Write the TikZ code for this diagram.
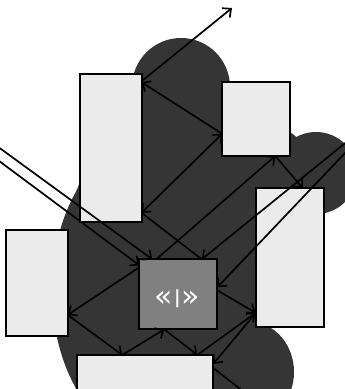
\documentclass[tikz,border=0pt]{standalone}
\usepackage{fontspec}
\newfontfamily\lblfont{DejaVu Sans}
\usetikzlibrary{arrows.meta}
\definecolor{boxgray}{HTML}{EBEBEB}
\definecolor{blobgray}{HTML}{353535}
\definecolor{midgray}{HTML}{808080}
\begin{document}
\begin{tikzpicture}[x=1pt,y=-1pt,
  box/.style={draw=black, line width=2pt, fill=boxgray, inner sep=0pt, outer sep=0pt, rectangle},
  hub/.style={box, fill=midgray},
  conn/.style={line width=1.7pt, -{Straight Barb[length=6.5pt,width=12pt,line width=1.7pt]}},
  bconn/.style={line width=1.7pt, {Straight Barb[length=6.5pt,width=12pt,line width=1.7pt]}-{Straight Barb[length=6.5pt,width=12pt,line width=1.7pt]}},
  plain/.style={line width=1.7pt}]
\useasboundingbox (0,0) rectangle (345,389);
\fill[white] (0,0) rectangle (345,389);
\begin{scope}
\clip (0,0) rectangle (345,389);
% dark cloud
\fill[blobgray] (133,80) -- (229,82) -- (300,140) -- (322,215) -- (270,328) -- (290,392) -- (77,392) -- (60,335) -- (62,227) -- (84,172) -- cycle;
\fill[blobgray] (181,87) circle (49pt);
\fill[blobgray] (316,173) circle (41pt);
\fill[blobgray] (250,372) ellipse [x radius=44pt, y radius=50pt];
\fill[blobgray] (150,290) ellipse [x radius=98pt, y radius=150pt];
% nodes
\node[box, minimum width=61.5pt, minimum height=147.5pt] (A) at (110.8,148) {};
\node[box, minimum width=68pt, minimum height=74.3pt] (B) at (256.2,118.8) {};
\node[box, minimum width=68.3pt, minimum height=139pt] (C) at (289.9,257.8) {};
\node[box, minimum width=61.7pt, minimum height=105.7pt] (D) at (36.9,282.9) {};
\node[hub, minimum width=78pt, minimum height=70pt] (E) at (178.3,294.3) {};
\node[text=white, font=\lblfont, inner sep=0pt] (Elbl) at (177.5,299) {\fontsize{30}{30}\selectfont«\hspace{1pt}\raisebox{3pt}{\bfseries\fontsize{18}{18}\selectfont|}\hspace{1pt}»};
\node[box, minimum width=136pt, minimum height=70pt] (F) at (145.3,390) {};
% free ends
\coordinate (out1) at (232,8);
\coordinate (inL1) at (-20,133.7);
\coordinate (inL2) at (-20,146.8);
\coordinate (inR1) at (365,127);
\coordinate (inR2) at (365,132);
\coordinate (out2) at (262,406);
% connectors
\draw[conn] ([yshift=-7pt]A.north east) -- (out1);
\draw[conn] ([yshift=-15pt]B.west) -- ([yshift=-8pt]A.north east);
\draw[bconn] ([yshift=9pt]A.south east) -- ([yshift=-15pt]B.west);
\draw[plain] ([yshift=9pt]A.south east) -- ([xshift=23.5pt]E.north);
\draw[conn] (inR1) -- ([xshift=23.5pt]E.north);
\draw[conn] (inR2) -- ([yshift=7pt]E.east);
\draw[conn] ([xshift=-22pt]E.north) -- ([xshift=19pt]B.south);
\draw[conn] (inL1) -- ([xshift=-26pt]E.north);
\draw[conn] (inL2) -- ([yshift=-6pt]E.north west);
\draw[conn] ([xshift=19pt]B.south) -- ([xshift=13pt]C.north);
\draw[conn] ([yshift=-8pt]E.north west) -- ([yshift=-32pt]D.east);
\draw[conn] ([yshift=-32pt]D.east) -- ([xshift=-23pt]F.north);
\draw[conn] ([xshift=-23pt]F.north) -- ([xshift=-14pt]E.south);
\draw[conn] ([xshift=-14pt]E.south) -- ([xshift=52pt]F.north);
\draw[conn] ([yshift=4pt]E.east) -- ([yshift=-55pt]C.west);
\draw[conn] ([xshift=52pt]F.north) -- ([yshift=-55pt]C.west);
\draw[conn] ([yshift=-55pt]C.west) -- ([yshift=-9pt]F.north east);
\draw[conn] ([yshift=-13pt]F.north east) -- (out2);
\end{scope}
\end{tikzpicture}
\end{document}
